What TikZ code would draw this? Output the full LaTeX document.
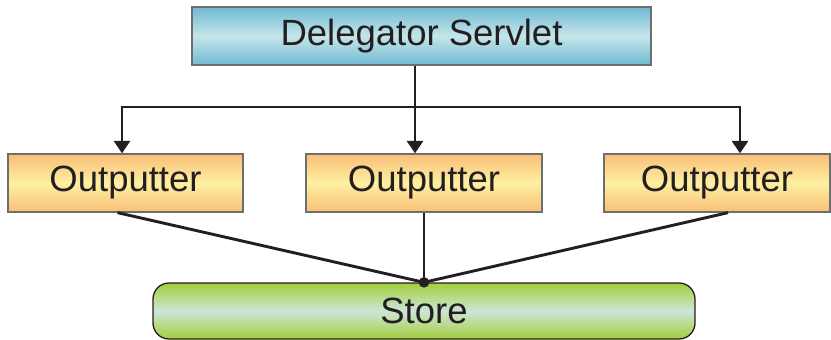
\documentclass[tikz,border=0pt]{standalone}
\usepackage{fontspec}
\setmainfont{Liberation Sans}
\usetikzlibrary{arrows.meta,calc}
\definecolor{blueedge}{HTML}{6FBAD3}
\definecolor{bluemid}{HTML}{C6E5E9}
\definecolor{orangeedge}{HTML}{F9BE78}
\definecolor{orangemid}{HTML}{FEF0A2}
\definecolor{greenedge}{HTML}{A3CE3B}
\definecolor{greenmid}{HTML}{CCE6D8}
\definecolor{boxline}{HTML}{6E6E6E}
\definecolor{ink}{HTML}{231F20}
\tikzset{
  box/.style={draw=boxline, line width=1.3pt, inner sep=0pt, text=ink,
    font=\fontsize{36.5}{40}\selectfont},
  servletbox/.style={box, top color=blueedge, bottom color=blueedge, middle color=bluemid,
    minimum width=459pt, minimum height=58pt},
  outbox/.style={box, top color=orangeedge, bottom color=orangeedge, middle color=orangemid,
    minimum height=58pt},
  storebox/.style={box, draw=ink, rounded corners=16pt, top color=greenedge, bottom color=greenedge, middle color=greenmid,
    minimum width=542pt, minimum height=56pt},
  wire/.style={draw=ink, line width=2.9pt},
  arrowwire/.style={wire, -{Triangle[length=12.5pt,width=16pt]}},
}
\begin{document}
\begin{tikzpicture}[x=1pt,y=-1pt]
\useasboundingbox (0,0) rectangle (831,340);
\node[servletbox] (del) at (421.5,36) {Delegator Servlet};
\node[outbox, minimum width=235pt] (o1) at (125.5,183) {Outputter};
\node[outbox, minimum width=236pt] (o2) at (424,183) {Outputter};
\node[outbox, minimum width=226pt] (o3) at (717,183) {Outputter};
\node[storebox] (store) at (424,311) {Store};
% bus
\coordinate (bj) at (415,107);
\coordinate (bl) at (122,107);
\coordinate (br) at (740,107);
\draw[wire] (del.south -| bj) -- (bj);
\draw[wire, line cap=rect] (bl) -- (br);
\draw[arrowwire] (bl) -- (bl |- o1.north);
\draw[arrowwire] (bj) -- (bj |- o2.north);
\draw[arrowwire] (br) -- (br |- o3.north);
% to store
\coordinate (sj) at (store.north);
\draw[wire] ($(o1.south)+(-8,0)$) -- (sj);
\draw[wire] (o2.south) -- (sj);
\draw[wire] ($(o3.south)+(11,0)$) -- (sj);
\fill[ink] (sj) circle (5.3pt);
\end{tikzpicture}
\end{document}
